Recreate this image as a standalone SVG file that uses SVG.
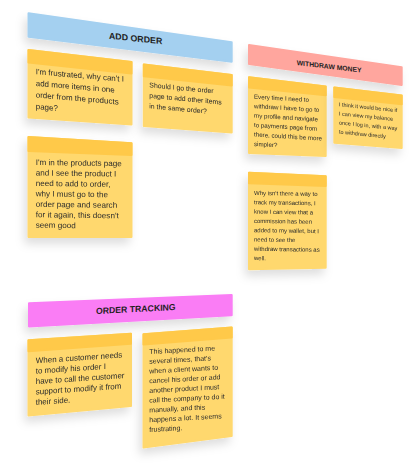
<svg xmlns="http://www.w3.org/2000/svg" width="411" height="475" viewBox="0 0 411 475">
  <defs>
    <filter id="sh" x="-30%" y="-30%" width="160%" height="170%">
      <feDropShadow dx="-3" dy="6" stdDeviation="5" flood-color="#000" flood-opacity="0.13"/>
    </filter>
    <style>
      .body{fill:#FFD86E;stroke:#FFD86E;stroke-width:2;stroke-linejoin:round}
      .band{fill:#FFC94A;stroke:#FFC94A;stroke-width:2;stroke-linejoin:round}
      .note{filter:url(#sh)}
      .txt{font-family:"Liberation Sans",Arial,sans-serif;fill:#2b2b2b}
      .hd{font-family:"Liberation Sans",Arial,sans-serif;font-weight:bold;fill:#1e1e1e}
    </style>
  </defs>
  <rect width="411" height="475" fill="#ffffff"/>

  <!-- ADD ORDER header -->
  <g id="add-order">
    <polygon points="28.5,13.3 231.7,42.3 231.7,61.7 28.5,36.7" fill="#A4D0F0" stroke="#A4D0F0" stroke-width="2" stroke-linejoin="round" filter="url(#sh)"/>
    <text class="hd" font-size="8.8" transform="translate(109,38.7) skewY(5.9)">ADD ORDER</text>
  </g>

  <g id="note-ao-1" class="note">
    <polygon class="body" points="28.5,50 131.5,62 131.5,124.5 28.5,117.5"/>
    <polygon class="band" points="28.5,50 131.5,62 131.5,73.5 28.5,62.5"/>
    <text class="txt" font-size="8" transform="translate(35.7,74.3) skewY(4.8)">
      <tspan x="0" y="0">I'm frustrated, why can't I</tspan>
      <tspan x="0" y="11.6">add more items in one</tspan>
      <tspan x="0" y="23.2">order from the products</tspan>
      <tspan x="0" y="34.8">page?</tspan>
    </text>
  </g>

  <g id="note-ao-2" class="note">
    <polygon class="body" points="143.8,64.5 231.7,75 231.7,132.5 143.8,126"/>
    <polygon class="band" points="143.8,64.5 231.7,75 231.7,85.5 143.8,76.3"/>
    <text class="txt" font-size="6.9" transform="translate(149.3,87.3) skewY(5.3)">
      <tspan x="0" y="0">Should I go the order</tspan>
      <tspan x="0" y="10.5">page to add other items</tspan>
      <tspan x="0" y="21">in the same order?</tspan>
    </text>
  </g>

  <g id="note-ao-3" class="note">
    <polygon class="body" points="28.5,137 131.5,143.3 131.5,237 28.5,237"/>
    <polygon class="band" points="28.5,137 131.5,143.3 131.5,155 28.5,151"/>
    <text class="txt" font-size="8.1" transform="translate(35.7,165) skewY(0.8)">
      <tspan x="0" y="0">I'm in the products page</tspan>
      <tspan x="0" y="10.45">and I see the product I</tspan>
      <tspan x="0" y="20.9">need to add to order,</tspan>
      <tspan x="0" y="31.35">why I must go to the</tspan>
      <tspan x="0" y="41.8">order page and search</tspan>
      <tspan x="0" y="52.25">for it again, this doesn't</tspan>
      <tspan x="0" y="62.7">seem good</tspan>
    </text>
  </g>

  <!-- WITHDRAW MONEY header -->
  <g id="withdraw-money">
    <polygon points="249,45 401.7,67.3 401.7,85 249,64" fill="#FFA69E" stroke="#FFA69E" stroke-width="2" stroke-linejoin="round" filter="url(#sh)"/>
    <text class="hd" font-size="6.8" transform="translate(296.7,65) skewY(6.7)">WITHDRAW MONEY</text>
  </g>

  <g id="note-wm-1" class="note">
    <polygon class="body" points="249,77.3 325.7,86.5 325.7,156 249,153"/>
    <polygon class="band" points="249,77.3 325.7,86.5 325.7,95.3 249,87.5"/>
    <text class="txt" font-size="6.2" transform="translate(254,98.7) skewY(3.4)">
      <tspan x="0" y="0">Every time I need to</tspan>
      <tspan x="0" y="9.45">withdraw I have to go to</tspan>
      <tspan x="0" y="18.9">my profile and navigate</tspan>
      <tspan x="0" y="28.35">to payments page from</tspan>
      <tspan x="0" y="37.8">there, could this be more</tspan>
      <tspan x="0" y="47.25">simpler?</tspan>
    </text>
  </g>

  <g id="note-wm-2" class="note">
    <polygon class="body" points="334.3,87.5 401.7,95.5 401.7,148 334.3,142.8"/>
    <polygon class="band" points="334.3,87.5 401.7,95.5 401.7,104.3 334.3,97"/>
    <text class="txt" font-size="5.5" transform="translate(339,106.3) skewY(5.7)">
      <tspan x="0" y="0">I think it would be nice if</tspan>
      <tspan x="0" y="9.1">I can view my balance</tspan>
      <tspan x="0" y="18.2">once I log in, with a way</tspan>
      <tspan x="0" y="27.3">to withdraw directly</tspan>
    </text>
  </g>

  <g id="note-wm-3" class="note">
    <polygon class="body" points="249,172.7 325.7,176.3 325.7,267.7 249,269.3"/>
    <polygon class="band" points="249,172.7 325.7,176.3 325.7,186 249,183.3"/>
    <text class="txt" font-size="6" transform="translate(254,195) skewY(0.9)">
      <tspan x="0" y="0">Why isn't there a way to</tspan>
      <tspan x="0" y="9.3">track my transactions, I</tspan>
      <tspan x="0" y="18.6">know I can view that a</tspan>
      <tspan x="0" y="27.9">commission has been</tspan>
      <tspan x="0" y="37.2">added to my wallet, but I</tspan>
      <tspan x="0" y="46.5">need to see the</tspan>
      <tspan x="0" y="55.8">withdraw transactions as</tspan>
      <tspan x="0" y="65.1">well.</tspan>
    </text>
  </g>

  <!-- ORDER TRACKING header -->
  <g id="order-tracking">
    <polygon points="29,303.3 231.7,295 231.7,315.3 29,326.5" fill="#FA7DF5" stroke="#FA7DF5" stroke-width="2" stroke-linejoin="round" filter="url(#sh)"/>
    <text class="hd" font-size="8.7" transform="translate(96,314) skewY(-2.9)">ORDER TRACKING</text>
  </g>

  <g id="note-ot-1" class="note">
    <polygon class="body" points="28.5,340.3 131,333.8 131,406 28.5,415.5"/>
    <polygon class="band" points="28.5,340.3 131,333.8 131,343.8 28.5,351.2"/>
    <text class="txt" font-size="8" transform="translate(35.7,363.3) skewY(-3.9)">
      <tspan x="0" y="0">When a customer needs</tspan>
      <tspan x="0" y="10.4">to modify his order I</tspan>
      <tspan x="0" y="20.8">have to call the customer</tspan>
      <tspan x="0" y="31.2">support to modify it from</tspan>
      <tspan x="0" y="41.6">their side.</tspan>
    </text>
  </g>

  <g id="note-ot-2" class="note">
    <polygon class="body" points="143.5,334.2 231.7,327.5 231.7,436 143.5,447.5"/>
    <polygon class="band" points="143.5,334.2 231.7,327.5 231.7,337.5 143.5,344.5"/>
    <text class="txt" font-size="7" transform="translate(149.3,354) skewY(-3.1)">
      <tspan x="0" y="0">This happened to me</tspan>
      <tspan x="0" y="9.75">several times, that's</tspan>
      <tspan x="0" y="19.5">when a client wants to</tspan>
      <tspan x="0" y="29.25">cancel his order or add</tspan>
      <tspan x="0" y="39">another product I must</tspan>
      <tspan x="0" y="48.75">call the company to do it</tspan>
      <tspan x="0" y="58.5">manually, and this</tspan>
      <tspan x="0" y="68.25">happens a lot. It seems</tspan>
      <tspan x="0" y="78">frustrating.</tspan>
    </text>
  </g>
</svg>
